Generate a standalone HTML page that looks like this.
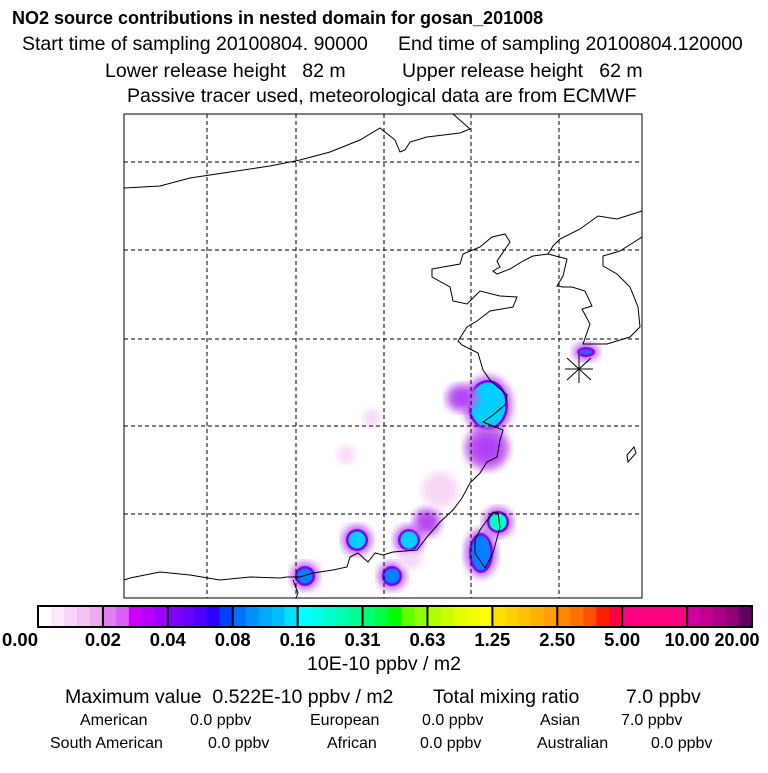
<!DOCTYPE html>
<html><head><meta charset="utf-8"><style>
body{margin:0;background:#fff;width:768px;height:768px;overflow:hidden;font-family:"Liberation Sans",sans-serif;}
svg text{font-family:"Liberation Sans",sans-serif;white-space:pre;}
</style></head><body>
<svg width="768" height="768">
<text x="12" y="24" font-size="18" font-weight="bold">NO2 source contributions in nested domain for gosan_201008</text>
<g font-size="19.5">
<text x="22" y="50">Start time of sampling 20100804. 90000</text>
<text x="398" y="50">End time of sampling 20100804.120000</text>
<text x="105" y="77">Lower release height   82 m</text>
<text x="402" y="77">Upper release height   62 m</text>
<text x="127" y="102">Passive tracer used, meteorological data are from ECMWF</text>
</g>
<defs><clipPath id="mc"><rect x="124" y="114" width="518" height="484"/></clipPath>
<filter id="bl"><feGaussianBlur stdDeviation="4"/></filter></defs>
<g id="map" clip-path="url(#mc)">
<g id="plumes"></g>
<g id="grid"></g>
<g fill="none" stroke="#000" stroke-width="1">
<polyline points="124,188 160,186 190,178 230,172 270,166 300,160 330,152 360,140 380,128 395,140 400,152 405,150 410,142 427,137 460,133 470,129 453,114"/>
<polyline points="642,211 617,219 598,216 580,229 560,239 553,246 548,254 533,256 523,261 510,269 497,274 493,271 500,267 497,261 510,242 505,234 492,237 480,247 463,254 460,264 443,267 432,269 432,277 450,287 453,301 467,304 480,291 500,296 517,297 513,307 490,311 477,321 467,327 458,341 462,345 478,353 483,370 490,380 507,395 505,405 493,415 483,422 503,430 500,440 497,457 487,462 480,473 470,483 462,498 453,510 440,522 427,537 417,550 393,552 383,555 375,553 368,562 358,553 350,557 347,567 333,570 313,573 300,577 287,577 280,578 250,577 220,580 190,575 160,572 130,578 124,580"/>
<polyline points="548,254 567,259 563,276 557,286 563,287 572,287 585,291 592,306 582,309 590,324 583,344 587,344 607,344 630,337 640,327 638,307 630,287 617,274 603,266 603,256 620,251 642,237"/>
<polyline points="293,580 298,593 296,598"/>
<polygon points="493,512 480,530 475,540 475,553 485,568 493,553 500,527 498,513"/>
<polygon points="627,455 634,447 636,453 628,462"/>
</g>
<g stroke="#000" stroke-width="1"><line x1="567" y1="358" x2="591" y2="380"/><line x1="567" y1="380" x2="591" y2="358"/><line x1="579" y1="355" x2="579" y2="383"/><line x1="565" y1="369" x2="593" y2="369"/></g>
</g>
<rect x="124" y="114" width="518" height="484" fill="none" stroke="#000"/>
<g id="cbar"></g>
<text x="384" y="670" font-size="19.5" text-anchor="middle">10E-10 ppbv / m2</text>
<g font-size="19.5">
<text x="65" y="703">Maximum value  0.522E-10 ppbv / m2</text>
<text x="433" y="703">Total mixing ratio</text>
<text x="626" y="703">7.0 ppbv</text>
</g>
<g font-size="16">
<text x="80" y="725">American</text><text x="190" y="725">0.0 ppbv</text>
<text x="310" y="725">European</text><text x="422" y="725">0.0 ppbv</text>
<text x="540" y="725">Asian</text><text x="621" y="725">7.0 ppbv</text>
<text x="50" y="748">South American</text><text x="208" y="748">0.0 ppbv</text>
<text x="327" y="748">African</text><text x="420" y="748">0.0 ppbv</text>
<text x="537" y="748">Australian</text><text x="651" y="748">0.0 ppbv</text>
</g>
</svg>
<script>
const ticks=["0.00","0.02","0.04","0.08","0.16","0.31","0.63","1.25","2.50","5.00","10.00","20.00"];
const colors=[["#fff","#fde8fd","#f9d3f9","#f4c2f4","#eeaaee"],["#e080f0","#d860f5","#cc00ff","#b800ff","#a000ff"],["#8000ff","#6a00ff","#5000ff","#2a00ff","#0040ff"],["#0070ff","#0090ff","#00a8ff","#00c0ff","#00e0ff"],["#00ffff","#00ffe8","#00ffd0","#00ffb0","#00ff90"],["#00ff70","#00ff40","#00ff00","#60ff00","#90ff00"],["#b0ff00","#c8ff00","#e0ff00","#f0ff00","#ffff00"],["#ffe000","#ffd000","#ffc000","#ffb000","#ffa000"],["#ff8800","#ff7000","#ff5000","#ff2000","#ff0040"],["#ff0080","#ff0080","#ff0080","#ff0080","#ff0080"],["#d000a0","#c00090","#a80088","#900078","#600060"]];
const plumeX=[488,462,487,481,498,357,409,392,305,427,586,440,372,346,410];
const plumeY=[405,398,448,553,522,540,540,576,576,522,352,490,418,455,560];
const plumeRX=[20,12,18,12,11,11,11,10,10,10,9,14,5,5,8];
const plumeRY=[25,10,18,20,11,11,11,10,10,10,5,14,5,5,5];
const plumeLevel=[4,1,1,3,5,4,4,3,3,1,2,0,0,0,0];
const NS="http://www.w3.org/2000/svg";
const cb=document.getElementById('cbar');
const x0=38,x1=752,y0=606,h=21,sw=(x1-x0)/11;
colors.forEach((seg,i)=>{seg.forEach((c,j)=>{const r=document.createElementNS(NS,'rect');
r.setAttribute('x',x0+i*sw+j*sw/5);r.setAttribute('y',y0);r.setAttribute('width',sw/5+0.5);r.setAttribute('height',h);r.setAttribute('fill',c);


cb.appendChild(r);});});
ticks.forEach((t,i)=>{const x=x0+i*sw;const l=document.createElementNS(NS,'line');
l.setAttribute('x1',x);l.setAttribute('x2',x);l.setAttribute('y1',y0);l.setAttribute('y2',y0+h);l.setAttribute('stroke','#000');l.setAttribute('stroke-width','2');


cb.appendChild(l);
const tx=document.createElementNS(NS,'text');tx.setAttribute('x',i==0?20:(i==11?737:x));tx.setAttribute('y',646);tx.setAttribute('font-size','18');tx.setAttribute('font-weight','bold');tx.setAttribute('text-anchor','middle');
tx.setAttribute('textLength',t.length*9);tx.setAttribute('lengthAdjust','spacingAndGlyphs');tx.textContent=t;


cb.appendChild(tx);});
const fr=document.createElementNS(NS,'rect');fr.setAttribute('x',x0);fr.setAttribute('y',y0);fr.setAttribute('width',x1-x0);fr.setAttribute('height',h);fr.setAttribute('fill','none');fr.setAttribute('stroke','#000');fr.setAttribute('stroke-width','2');


cb.appendChild(fr);
const g=document.getElementById('grid');
[207,296,384,471,559].forEach(x=>{const l=document.createElementNS(NS,'line');l.setAttribute('x1',x);l.setAttribute('x2',x);l.setAttribute('y1',114);l.setAttribute('y2',598);l.setAttribute('stroke','#000');l.setAttribute('stroke-dasharray','4,3');


g.appendChild(l);});
[162,250,339,426,514].forEach(y=>{const l=document.createElementNS(NS,'line');l.setAttribute('y1',y);l.setAttribute('y2',y);l.setAttribute('x1',124);l.setAttribute('x2',642);l.setAttribute('stroke','#000');l.setAttribute('stroke-dasharray','4,3');


g.appendChild(l);});
const pl=document.getElementById('plumes');
const lv=[["#f4c8f4"],["#e0a0f4","#b030f8"],["#9000ff","#3060ff"],["#8000ff","#0080ff"],["#8000ff","#00d0ff"],["#8000ff","#00ffc0"]];
function ell(x,y,rx,ry,fill,name,filt){const e=document.createElementNS(NS,'ellipse');e.setAttribute('cx',x);e.setAttribute('cy',y);e.setAttribute('rx',rx);e.setAttribute('ry',ry);e.setAttribute('fill',fill);if(filt)e.setAttribute('filter','url(#bl)');


pl.appendChild(e);}
plumeX.forEach((x,i)=>{const y=plumeY[i],rx=plumeRX[i],ry=plumeRY[i],L=plumeLevel[i];
ell(x,y,rx+4,ry+4,L==0?'#f6d8f6':'#c060f0','plume-halo',true);
if(L>=2){ell(x,y,rx,ry,lv[L][0],'plume-edge',false);ell(x,y,rx-2.5,ry-2.5,lv[L][1],'plume-core',false);}
else if(L==1){ell(x,y,rx*0.7,ry*0.7,'#b040f8','plume-core',true);}
});
</script>
</body></html>
